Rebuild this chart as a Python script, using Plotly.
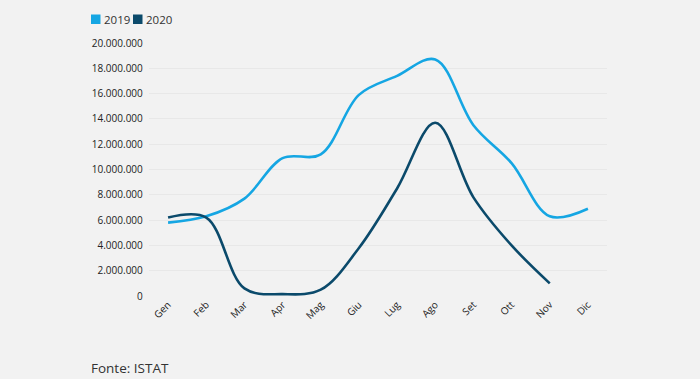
import plotly.graph_objects as go

months = ["Gen", "Feb", "Mar", "Apr", "Mag", "Giu", "Lug", "Ago", "Set", "Ott", "Nov", "Dic"]
v2019 = [5800000, 6300000, 7700000, 10900000, 11200000, 15900000, 17400000, 18700000, 13500000, 10500000, 6300000, 6900000]
v2020 = [6200000, 6200000, 600000, 150000, 500000, 3800000, 8500000, 13700000, 7800000, 4000000, 1000000]
years = ["2019", "2020"]
colors = ["#15a6e3", "#0b4a6b"]

fig = go.Figure()
fig.add_trace(go.Scatter(x=months, y=v2019, name=years[0], mode="lines", showlegend=False,
                         line=dict(color=colors[0], width=2.6, shape="spline", smoothing=1)))
fig.add_trace(go.Scatter(x=months[:len(v2020)], y=v2020, name=years[1], mode="lines", showlegend=False,
                         line=dict(color=colors[1], width=2.6, shape="spline", smoothing=1)))

L, R, T, B = 149, 93, 43, 83
W, H = 700, 379
pw, ph = W - L - R, H - T - B

def px(x):
    return (x - L) / pw

def py(y):
    return (H - B - y) / ph

shapes = []
annotations = []
legend_x = [91, 133]
for yr, c, lx in zip(years, colors, legend_x):
    shapes.append(dict(type="rect", xref="paper", yref="paper", x0=px(lx), x1=px(lx + 9.5),
                       y0=py(24), y1=py(14.5), fillcolor=c, line=dict(width=0)))
    annotations.append(dict(text=yr, xref="paper", yref="paper", x=px(lx + 11.5), y=py(19),
                            xanchor="left", yanchor="middle", showarrow=False, borderpad=0,
                            font=dict(size=11.5, color="#333")))
annotations.append(dict(text="Fonte: ISTAT", xref="paper", yref="paper",
                        x=px(89), y=py(368), xanchor="left", yanchor="middle",
                        showarrow=False, font=dict(size=13.5, color="#333")))

fig.update_layout(
    width=W, height=H,
    paper_bgcolor="#f2f2f2", plot_bgcolor="#f2f2f2",
    margin=dict(l=L, r=R, t=T, b=B),
    separators=",.",
    font=dict(family="Open Sans, sans-serif", size=10, color="#222"),
    showlegend=False,
    xaxis=dict(type="category", range=[-0.5, 11.5], tickangle=-45, showgrid=False,
               showline=False, ticks="", tickfont=dict(size=10)),
    yaxis=dict(range=[0, 20000000], dtick=2000000, tickformat=",d", showgrid=True,
               gridcolor="#e8e8e8", zeroline=False, ticks="", tickfont=dict(size=10),
               ticksuffix="  "),
    shapes=shapes,
    annotations=annotations,
)
fig.write_html("out.html", config={"displayModeBar": False},
               post_script="document.body.style.margin='0';")
